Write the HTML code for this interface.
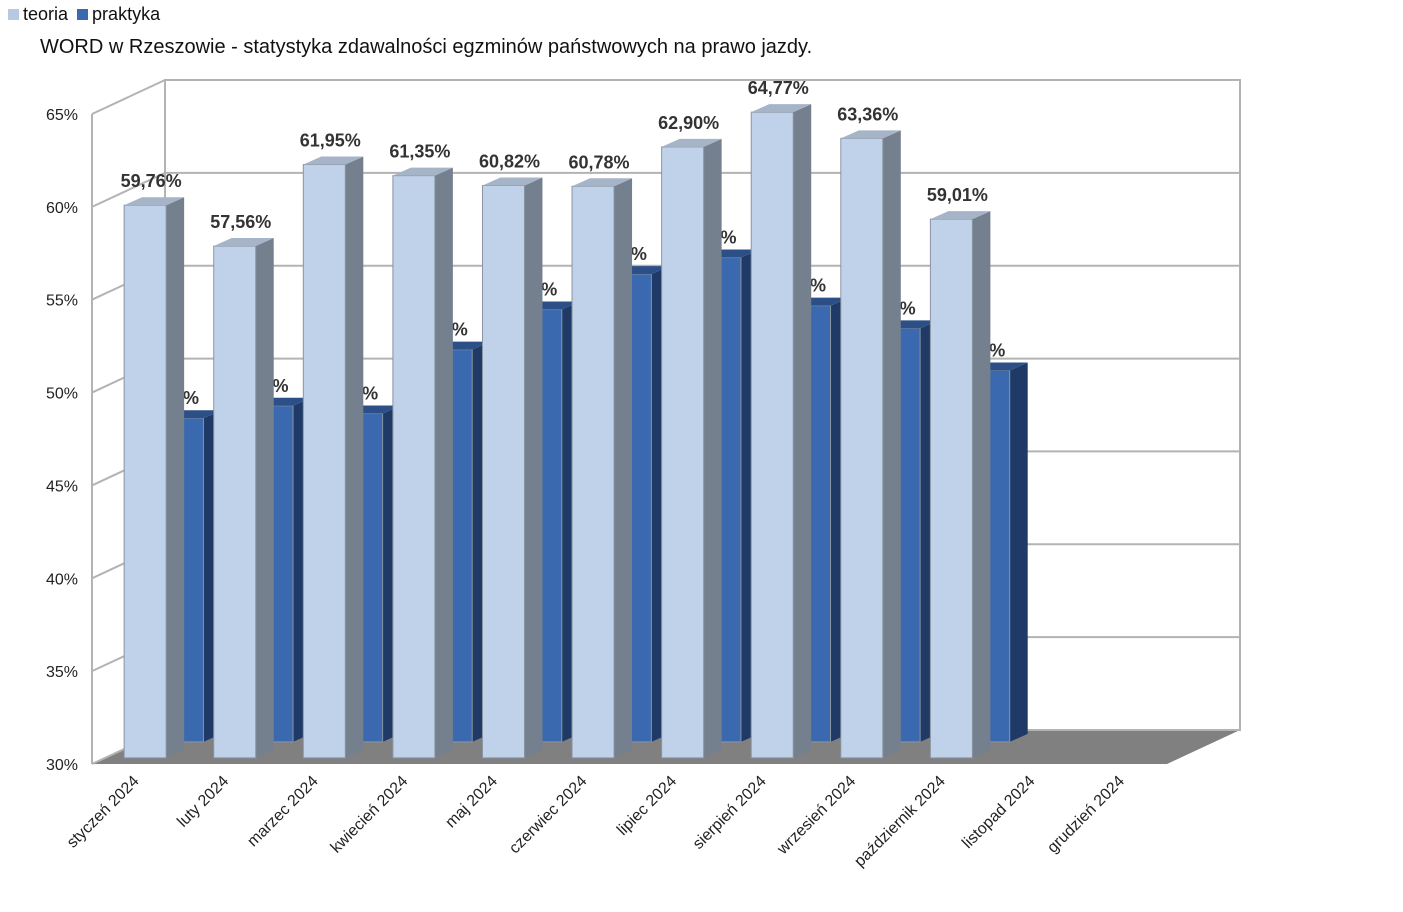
<!DOCTYPE html>
<html><head><meta charset="utf-8"><style>
body{margin:0;background:#fff;font-family:"Liberation Sans",sans-serif;}
svg text{font-family:"Liberation Sans",sans-serif;}
</style></head><body>
<svg id="c" width="1403" height="907"></svg>
<script>
const categories=["styczeń 2024","luty 2024","marzec 2024","kwiecień 2024","maj 2024","czerwiec 2024","lipiec 2024","sierpień 2024","wrzesień 2024","październik 2024","listopad 2024","grudzień 2024"];
const teoria=[59.76,57.56,61.95,61.35,60.82,60.78,62.90,64.77,63.36,59.01];
const praktyka=[47.43,48.10,47.68,51.12,53.28,55.19,56.08,53.49,52.27,50.00];
const yTicks=[30,35,40,45,50,55,60,65];
const NS="http://www.w3.org/2000/svg";
const svg=document.getElementById('c');
function el(t,a,p){const e=document.createElementNS(NS,t);for(const k in a)e.setAttribute(k,a[k]);(p||svg).appendChild(e);return e;}
const X0=92,Y0=764,DX=73,DY=-34,SL=1075/12,PX=650/35;
function yv(v,f){return Y0+DY*f-(v-30)*PX;}
function xs(i,f){return X0+i*SL+DX*f;}
// floor
let g=el('g',{});
el('polygon',{points:`${X0},${Y0} ${X0+1075},${Y0} ${X0+1075+DX},${Y0+DY} ${X0+DX},${Y0+DY}`,fill:'#808080'},g);
// walls + grid
let w=el('g',{});
el('rect',{x:X0+DX,y:yv(65,1),width:1075,height:650,fill:'#fff',stroke:'#b3b3b3','stroke-width':2},w);
yTicks.forEach(t=>{
 el('line',{x1:X0,y1:yv(t,0),x2:X0+DX,y2:yv(t,1),stroke:'#b3b3b3','stroke-width':2},w);
 el('line',{x1:X0+DX,y1:yv(t,1),x2:X0+DX+1075,y2:yv(t,1),stroke:'#b3b3b3','stroke-width':2},w);
 const tx=el('text',{x:78,y:yv(t,0)+6,'text-anchor':'end','font-size':16,fill:'#222'});
 tx.textContent=t+'%';
 
});
el('line',{x1:X0,y1:yv(30,0),x2:X0,y2:yv(65,0),stroke:'#b3b3b3','stroke-width':2},w);
function bar(i,v,f,off,wd,cf,cs,ct,name){
 const b=el('g',{});
 const x=xs(i,f)+off,yb=yv(30,f),yt=yv(v,f),d=18,h=-8;
 el('polygon',{points:`${x+wd},${yb} ${x+wd+d},${yb+h} ${x+wd+d},${yt+h} ${x+wd},${yt}`,fill:cs},b);
 el('rect',{x:x,y:yt,width:wd,height:yb-yt,fill:cf,stroke:'#8a94a3','stroke-width':1},b);
 el('polygon',{points:`${x},${yt} ${x+wd},${yt} ${x+wd+d},${yt+h} ${x+d},${yt+h}`,fill:ct},b);
 return [x+wd/2+6,yt];
}
praktyka.forEach((v,i)=>{
 const [cx,yt]=bar(i,v,0.65,26,38,'#3a69b0','#1f3a66','#2c4f88','bar-praktyka');
 const t=el('text',{x:cx-22,y:yt-14,'text-anchor':'middle','font-size':18,'font-weight':'bold',fill:'#333'});
 t.textContent=v.toFixed(2).replace('.',',')+'%';
 
});
teoria.forEach((v,i)=>{
 const [cx,yt]=bar(i,v,0.18,19,42,'#c0d2ea','#75808f','#a6b4c8','bar-teoria');
 const t=el('text',{x:cx,y:yt-18,'text-anchor':'middle','font-size':18,'font-weight':'bold',fill:'#333'});
 t.textContent=v.toFixed(2).replace('.',',')+'%';
 
});
categories.forEach((c,i)=>{
 const x=X0+i*SL+SL/2+3,y=782;
 const t=el('text',{x:x,y:y,'text-anchor':'end','font-size':16,fill:'#222',transform:`rotate(-45 ${x} ${y})`});
 t.textContent=c;
 
});
</script>
<div style="position:absolute;left:8px;top:4px;font-size:18px;color:#111">
<span><span style="display:inline-block;width:11px;height:11px;background:#b7c9e2;margin-right:4px"></span>teoria</span>
<span><span style="display:inline-block;width:11px;height:11px;background:#3a69b0;margin:0 4px 0 4px"></span>praktyka</span>
</div>
<div style="position:absolute;left:40px;top:36px;font-size:20px;color:#111">WORD w Rzeszowie - statystyka zdawalności egzminów państwowych na prawo jazdy.</div>
</body></html>
